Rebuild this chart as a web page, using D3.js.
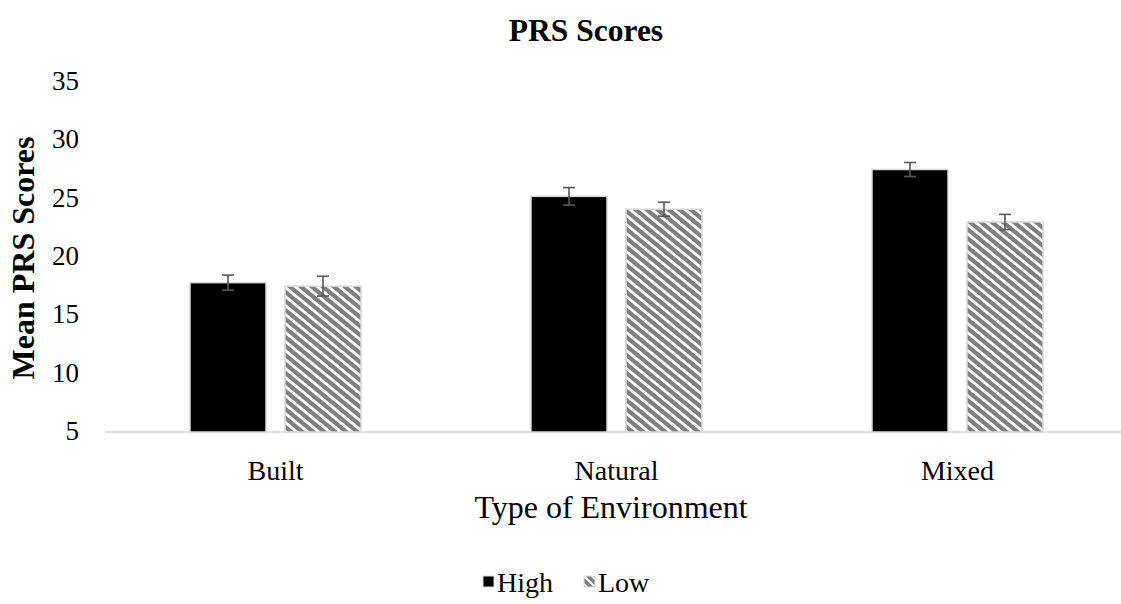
<!DOCTYPE html>
<html>
<head>
<meta charset="utf-8">
<script src="https://cdn.jsdelivr.net/npm/d3@7"></script>
<style>
  body { margin: 0; background: #fff; }
  text { font-family: "Liberation Serif", "Times New Roman", serif; fill: #000; }
</style>
</head>
<body>
<svg id="chart" width="1121" height="604"></svg>
<script>
// data
var categories = ["Built", "Natural", "Mixed"];
var seriesNames = ["High", "Low"];
var highValues = [17.8, 25.2, 27.5];
var lowValues = [17.5, 24.1, 23.0];
var highErrors = [0.65, 0.75, 0.6];
var lowErrors = [0.85, 0.6, 0.65];
var yTicks = [5, 10, 15, 20, 25, 30, 35];

var svg = d3.select("#chart");
var W = 1121, H = 604;

var x = d3.scaleBand().domain(categories).range([105, 1128]);
var xs = d3.scaleBand().domain(seriesNames).range([-85.5, 85.5]).paddingInner(0.2);
var y = d3.scaleLinear().domain([5, 35]).range([432, 82]);

// hatch pattern for "Low"
var defs = svg.append("defs");
function hatch(id, w, h, sw) {
    var p = defs.append("pattern")
        .attr("id", id)
        .attr("patternUnits", "userSpaceOnUse")
        .attr("width", w).attr("height", h);
    p.append("rect").attr("width", w).attr("height", h).attr("fill", "#7f7f7f");
    p.append("path")
        .attr("d", "M" + (-w) + "," + (-h) + "L" + (2*w) + "," + (2*h) +
                   "M0," + (-h) + "L" + (2*w) + "," + h +
                   "M" + (-w) + ",0L" + w + "," + (2*h))
        .attr("stroke", "#fff")
        .attr("stroke-width", sw);
}
hatch("lowHatch", 11, 9, 2.8);
hatch("legendHatch", 8, 8, 2);

// baseline
svg.append("line")
    .attr("x1", 105).attr("x2", 1128)
    .attr("y1", y(5)).attr("y2", y(5))
    .attr("stroke", "#d9d9d9").attr("stroke-width", 1.5);

// y tick labels
svg.append("g").selectAll("text").data(yTicks).enter().append("text")
    .attr("x", 79)
    .attr("y", function(d) { return y(d); })
    .attr("dy", "0.3em")
    .attr("text-anchor", "end")
    .style("font-size", "27px")
    .text(function(d) { return d; });

var rows = categories.map(function(c, i) {
    return [
        {cat: c, s: "High", v: highValues[i], e: highErrors[i]},
        {cat: c, s: "Low", v: lowValues[i], e: lowErrors[i]}
    ];
});
var flat = [].concat.apply([], rows);

function bx(d) { return x(d.cat) + x.bandwidth() / 2 + xs(d.s); }

svg.append("g").selectAll("rect").data(flat).enter().append("rect")
    .attr("x", bx)
    .attr("y", function(d) { return y(d.v); })
    .attr("width", xs.bandwidth())
    .attr("height", function(d) { return y(5) - y(d.v); })
    .attr("fill", function(d) { return d.s == "High" ? "#000" : "url(#lowHatch)"; })
    .attr("stroke", "#d9d9d9")
    .attr("stroke-width", 1.5);

// error bars
var eb = svg.append("g").selectAll("g").data(flat).enter().append("g")
    .attr("stroke", "#595959").attr("stroke-width", 1.6);
eb.append("line")
    .attr("x1", function(d) { return bx(d) + xs.bandwidth() / 2; })
    .attr("x2", function(d) { return bx(d) + xs.bandwidth() / 2; })
    .attr("y1", function(d) { return y(d.v + d.e); })
    .attr("y2", function(d) { return y(d.v - d.e); });
[1, -1].forEach(function(sign) {
    eb.append("line")
        .attr("x1", function(d) { return bx(d) + xs.bandwidth() / 2 - 6; })
        .attr("x2", function(d) { return bx(d) + xs.bandwidth() / 2 + 6; })
        .attr("y1", function(d) { return y(d.v + sign * d.e); })
        .attr("y2", function(d) { return y(d.v + sign * d.e); });
});

// x category labels
svg.append("g").selectAll("text").data(categories).enter().append("text")
    .attr("x", function(d) { return x(d) + x.bandwidth() / 2; })
    .attr("y", 480)
    .attr("text-anchor", "middle")
    .style("font-size", "28px")
    .text(function(d) { return d; });

// titles
svg.append("text")
    .attr("x", 586).attr("y", 41)
    .attr("text-anchor", "middle")
    .style("font-size", "31.5px").style("font-weight", "bold")
    .text("PRS Scores");

svg.append("text")
    .attr("x", 611).attr("y", 518)
    .attr("text-anchor", "middle")
    .style("font-size", "32px")
    .text("Type of Environment");

svg.append("text")
    .attr("transform", "translate(34,258) rotate(-90)")
    .attr("text-anchor", "middle")
    .style("font-size", "32px").style("font-weight", "bold")
    .text("Mean PRS Scores");

// legend
var legend = svg.append("g");
var lx = [483, 584];
seriesNames.forEach(function(s, i) {
    legend.append("rect")
        .attr("x", lx[i]).attr("y", 576)
        .attr("width", 11).attr("height", 11)
        .attr("fill", s == "High" ? "#000" : "url(#legendHatch)")
        .attr("stroke", "#d9d9d9").attr("stroke-width", 1);
    legend.append("text")
        .attr("x", lx[i] + 14).attr("y", 592)
        .style("font-size", "28px")
        .text(s);
});
</script>
</body>
</html>
